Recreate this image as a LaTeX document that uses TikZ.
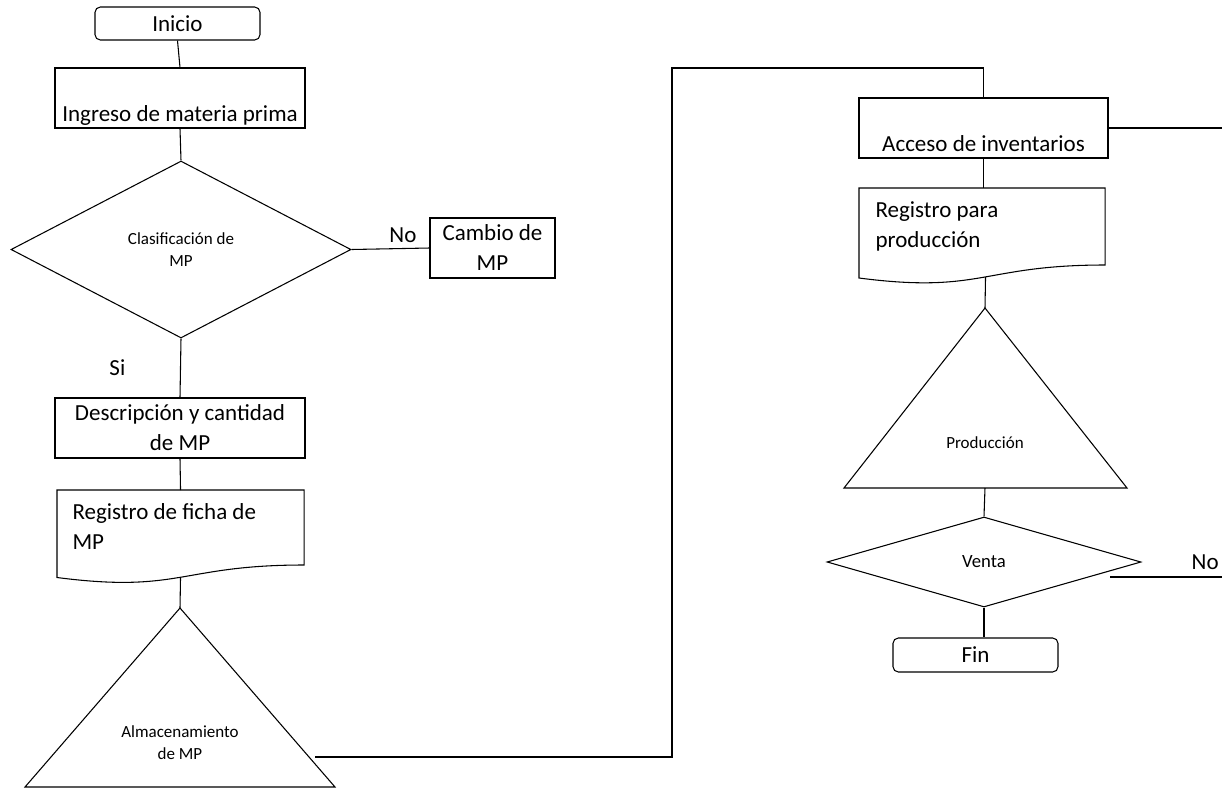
\documentclass[tikz,border=0pt]{standalone}
\usepackage{fontspec}
\setmainfont{Carlito}
\usetikzlibrary{shapes.geometric,positioning,calc}

\tikzset{
  txt/.style={font=\fontsize{17.25}{22.5}\selectfont},
  txtmed/.style={font=\fontsize{14}{17}\selectfont},
  txtsmall/.style={font=\fontsize{12.75}{16.5}\selectfont},
  termino/.style={txt, draw, rounded corners=4pt, minimum width=123.75pt, minimum height=24.75pt, inner sep=0pt},
  proceso/.style={txt, draw, minimum width=187.5pt, minimum height=45pt, align=center, inner sep=0pt},
  decision/.style={diamond, draw, align=center, inner sep=0pt},
  docu/.style={txt, align=flush left, anchor=north west, inner xsep=11.25pt, inner ysep=9.5pt},
  etiqueta/.style={txt, inner sep=0pt},
}

\begin{document}
\begin{tikzpicture}[x=0.75pt,y=-0.75pt,line width=0.8pt]
\useasboundingbox (0,0) rectangle (1222,790);

% columna izquierda
\node[termino] (inicio) at (177.5,23.5) {Inicio};
\node[proceso] (ingreso) at (180,98) {};
\node[txt, anchor=base] (ingreso txt) at ([yshift=5pt]ingreso.south) {Ingreso de materia prima};

\node[decision, txtsmall, minimum width=255pt, minimum height=132.75pt] (clasif) at (181,249.5) {Clasificaci\'on de\\MP};
\node[proceso, minimum width=93.75pt] (cambio) at (492.5,248) {Cambio de\\MP};

\node[proceso] (desc) at (180,428) {Descripci\'on y cantidad\\de MP};

\node[docu, text width=162pt] (ficha) at (57,490) {Registro de ficha de\\MP};
\draw (ficha.north west) -- (ficha.north east) -- ($(ficha.north east)+(0,75)$)
  .. controls ($(ficha.north)+(0,75)$) and ($(ficha.north)+(0,103.5)$) .. ($(ficha.north west)+(0,87.5)$) -- cycle;
\coordinate (ficha bot) at ($(ficha.north)+(0,87)$);

% almacenamiento
\coordinate (alm top) at (180,608);
\draw (alm top) -- (25,787) -- (335,787) -- cycle;
\node[txtsmall, align=center] (alm) at (180,743) {Almacenamiento\\de MP};
\coordinate (almR) at (315,757);
\coordinate (turn) at (672,68);

% columna derecha
\node[proceso, minimum width=186.75pt] (acceso) at (983.5,128) {};
\node[txt, anchor=base] (acceso txt) at ([yshift=5pt]acceso.south) {Acceso de inventarios};

\node[docu, inner xsep=12pt, text width=159.75pt] (regprod) at (859,188) {Registro para\\producci\'on};
\draw (regprod.north west) -- (regprod.north east) -- ($(regprod.north east)+(0,77)$)
  .. controls ($(regprod.north)+(0,77)$) and ($(regprod.north)+(0,106)$) .. ($(regprod.north west)+(0,90)$) -- cycle;
\coordinate (regprod bot) at ($(regprod.north)+(3.5,89)$);

\coordinate (prod top) at (985,308);
\coordinate (prod base) at (985,488);
\draw (prod top) -- (844,488) -- (1127,488) -- cycle;
\node[txtsmall] (prod) at (985,443) {Producci\'on};

\node[decision, txtmed, minimum width=235.5pt, minimum height=67.5pt] (venta) at (984,562) {Venta};
\node[termino, minimum height=25.5pt] (fin) at (975.5,655) {Fin};
\coordinate (ventaNo) at (1110,577);

% conectores
\draw (inicio.south) -- (ingreso.north);
\draw (ingreso.south) -- (clasif.north);
\draw (clasif.east) -- node[etiqueta, pos=0.66, above=4pt] {No} (cambio.west);
\draw (clasif.south) -- node[etiqueta, pos=0.5, left=41pt] {Si} (desc.north);
\draw (desc.south) -- (ficha.north);
\draw (ficha bot) -- (alm top);
\draw[line width=1pt] (almR) -| (turn) -| (acceso.north);
\draw (acceso.east) -- ++(114,0);
\draw (acceso.south) -- (acceso.south |- regprod.north);
\draw (regprod bot) -- (prod top);
\draw (prod base) -- (venta.north);
\draw (venta.south) -- (venta.south |- fin.north);
\draw (ventaNo) -- node[etiqueta, pos=0.85, above=5pt] {No} ++(112,0);

\end{tikzpicture}
\end{document}
